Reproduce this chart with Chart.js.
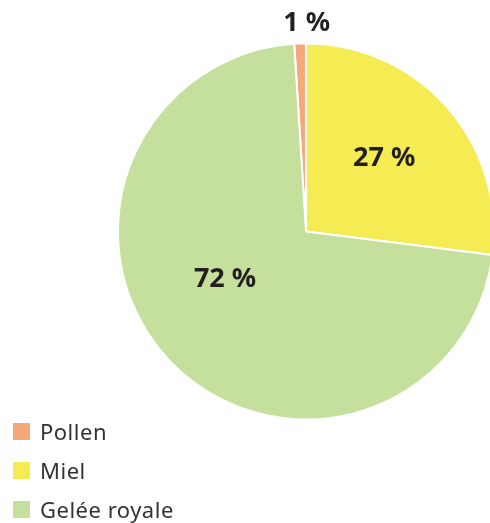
<!DOCTYPE html>
<html>
<head>
<meta charset="utf-8">
<script src="https://cdn.jsdelivr.net/npm/chart.js@4"></script>
<style>
  html, body { margin: 0; padding: 0; background: #fff; overflow: hidden; width: 490px; height: 523px; }
  #wrap { position: absolute; left: 0; top: 0; width: 500px; height: 523px; }
  #legend { position: absolute; left: 13px; top: 423px; font-family: "Noto Sans", sans-serif; font-size: 22px; letter-spacing: 0.5px; color: #333; }
  #legend div { height: 39px; display: flex; align-items: flex-start; }
  #legend span.box { display: inline-block; width: 17px; height: 17px; margin-right: 10px; }
  #legend span.txt { line-height: 17px; }
</style>
</head>
<body>
<div id="wrap"><canvas id="pieChart" width="500" height="523"></canvas></div>
<div id="legend"></div>
<script>
const labels = ['Pollen', 'Miel', 'Gelée royale'];
const values = [1, 27, 72];
const colors = ['#f5a97a', '#f4ec52', '#c5df9d'];

// legend html
const legend = document.getElementById('legend');
labels.forEach((l, i) => {
  const row = document.createElement('div');
  row.innerHTML = '<span class="box" style="background:' + colors[i] + '"></span><span class="txt">' + l + '</span>';
  legend.appendChild(row);
});

// labels: radial fraction + angle shift (deg) relative to slice middle
const labelPos = [
  { r: 1.11, shift: 2 },
  { r: 0.57, shift: -1.7 },
  { r: 0.50, shift: 12.7 }
];

const pctLabels = {
  id: 'pctLabels',
  afterDatasetsDraw(chart) {
    const ctx = chart.ctx;
    const meta = chart.getDatasetMeta(0);
    ctx.save();
    ctx.fillStyle = '#231f20';
    ctx.font = 'bold 27px "Noto Sans", sans-serif';
    ctx.textAlign = 'center';
    ctx.textBaseline = 'middle';
    meta.data.forEach((arc, i) => {
      const p = arc.getProps(['x', 'y', 'startAngle', 'endAngle', 'outerRadius'], true);
      const a = (p.startAngle + p.endAngle) / 2 + labelPos[i].shift * Math.PI / 180;
      const r = p.outerRadius * labelPos[i].r;
      ctx.fillText(values[i] + ' %', p.x + Math.cos(a) * r, p.y + Math.sin(a) * r);
    });
    ctx.restore();
  }
};

new Chart(document.getElementById('pieChart').getContext('2d'), {
  type: 'pie',
  data: {
    labels: labels,
    datasets: [{
      data: values,
      backgroundColor: colors,
      borderColor: '#fff',
      borderWidth: 2
    }]
  },
  options: {
    responsive: false,
    animation: false,
    rotation: -3.6,
    layout: { padding: { left: 117, top: 42, right: 5, bottom: 102 } },
    plugins: {
      legend: { display: false },
      tooltip: { enabled: false }
    }
  },
  plugins: [pctLabels]
});
</script>
</body>
</html>
